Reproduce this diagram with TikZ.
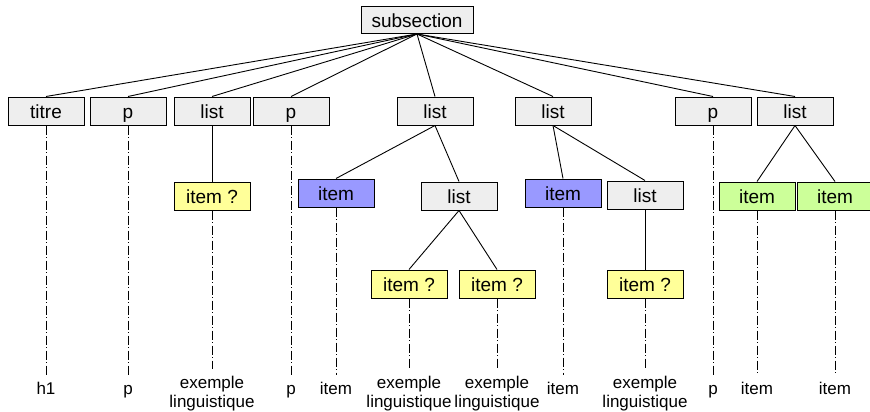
\documentclass[tikz,border=0pt]{standalone}
\usepackage{fontspec}
\setmainfont{Liberation Sans}
\usepackage{tikz}
\usetikzlibrary{positioning}

\definecolor{elemgrey}{RGB}{238,238,238}
\definecolor{unsureyellow}{RGB}{255,255,153}
\definecolor{itemblue}{RGB}{153,153,255}
\definecolor{itemgreen}{RGB}{204,255,153}

\begin{document}
\begin{tikzpicture}[
  x=1pt, y=-1pt,
  box/.style={draw, line width=1pt, minimum width=76pt, minimum height=28pt,
    inner sep=0pt, text height=18pt, text depth=3.4pt,
    font=\fontsize{19}{21}\selectfont},
  elem/.style={box, fill=elemgrey},
  unsure/.style={box, fill=unsureyellow},
  itemb/.style={box, fill=itemblue},
  itemg/.style={box, fill=itemgreen},
  leaf/.style={font=\fontsize{17}{19}\selectfont, anchor=north,
    inner xsep=0pt, inner ysep=7pt},
  word/.style={leaf, text height=12.2pt, text depth=3.4pt},
  phrase/.style={leaf, align=center},
  trace/.style={line width=0.9pt, dash pattern=on 9pt off 2.5pt on 1pt off 2.5pt},
  edge/.style={line width=0.9pt},
]
  \useasboundingbox (0,0) rectangle (870,412);

  % Root
  \node[elem, minimum width=112pt, minimum height=27pt] (sub) at (417,20) {subsection};

  % First level
  \node[elem] (titre) at (46,111) {titre};
  \node[elem] (p1) at (128,111) {p};
  \node[elem] (list1) at (212,111) {list};
  \node[elem] (p2) at (291,111) {p};
  \node[elem] (list2) at (435,111) {list};
  \node[elem] (list3) at (553,111) {list};
  \node[elem] (p3) at (713,111) {p};
  \node[elem] (list4) at (795,111) {list};

  % Second level
  \node[unsure] (q1) at (212,196) {item ?};
  \node[itemb] (b1) at (336,193) {item};
  \node[elem] (list5) at (459,196) {list};
  \node[itemb] (b2) at (563,193) {item};
  \node[elem] (list6) at (645,195) {list};
  \node[itemg] (g1) at (757,196) {item};
  \node[itemg] (g2) at (835,196) {item};

  % Third level
  \node[unsure] (q2) at (409,284) {item ?};
  \node[unsure] (q3) at (497,284) {item ?};
  \node[unsure] (q4) at (645,284) {item ?};

  % Bottom labels
  \node[word] (t1) at (46,375) {h1};
  \node[word] (t2) at (128,375) {p};
  \node[phrase] (t3) at (212,369) {exemple\\linguistique};
  \node[word] (t4) at (291,375) {p};
  \node[word] (t5) at (336,375) {item};
  \node[phrase] (t6) at (409,369) {exemple\\linguistique};
  \node[phrase] (t7) at (497,369) {exemple\\linguistique};
  \node[word] (t8) at (563,375) {item};
  \node[phrase] (t9) at (645,369) {exemple\\linguistique};
  \node[word] (t10) at (713,375) {p};
  \node[word] (t11) at (757,375) {item};
  \node[word] (t12) at (835,375) {item};

  % Tree edges
  \foreach \n in {titre,p1,list1,p2,list2,list3,p3,list4}
    \draw[edge] (sub.south) -- (\n.north);
  \draw[edge] (list1.south) -- (q1.north);
  \draw[edge] (list2.south) -- (b1.north);
  \draw[edge] (list2.south) -- (list5.north);
  \draw[edge] (list3.south) -- (b2.north);
  \draw[edge] (list3.south) -- (list6.north);
  \draw[edge] (list4.south) -- (g1.north);
  \draw[edge] (list4.south) -- (g2.north);
  \draw[edge] (list5.south) -- (q2.north);
  \draw[edge] (list5.south) -- (q3.north);
  \draw[edge] (list6.south) -- (q4.north);

  % Traces down to the labels
  \draw[trace] (titre.south) -- (t1.north);
  \draw[trace] (p1.south) -- (t2.north);
  \draw[trace] (q1.south) -- (t3.north);
  \draw[trace] (p2.south) -- (t4.north);
  \draw[trace] (b1.south) -- (t5.north);
  \draw[trace] (q2.south) -- (t6.north);
  \draw[trace] (q3.south) -- (t7.north);
  \draw[trace] (b2.south) -- (t8.north);
  \draw[trace] (q4.south) -- (t9.north);
  \draw[trace] (p3.south) -- (t10.north);
  \draw[trace] (g1.south) -- (t11.north);
  \draw[trace] (g2.south) -- (t12.north);
\end{tikzpicture}
\end{document}
